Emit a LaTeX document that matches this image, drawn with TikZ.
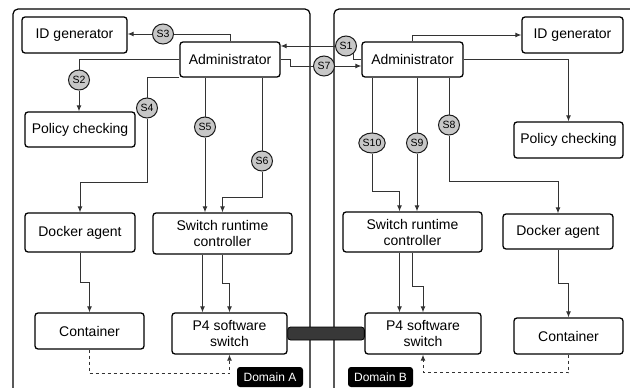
\documentclass[tikz,border=0pt]{standalone}
\usepackage{fontspec}
\setmainfont{Liberation Sans}
\usetikzlibrary{arrows.meta, shapes.geometric}

\begin{document}
\begin{tikzpicture}[x=1pt, y=-1pt,
	every node/.style={font=\fontsize{14}{16}\selectfont},
	box/.style={draw=black, line width=1.3pt, rounded corners=3pt, fill=white, inner sep=0pt, align=center},
	tag/.style={ellipse, draw=black!90, line width=1pt, fill=black!22, inner sep=0pt, minimum width=21pt, minimum height=20pt, font=\fontsize{10.5}{12}\selectfont},
	conn/.style={draw=black!80, line width=1pt},
	arr/.style={conn, -{Latex[length=6pt,width=5pt]}},
	dsh/.style={arr, dashed},
	domainbox/.style={draw=black, line width=1.2pt, rounded corners=5pt},
	dlabel/.style={fill=black, text=white, rounded corners=3pt, minimum width=66pt, minimum height=20pt, inner sep=0pt, font=\fontsize{12}{14}\selectfont}]
		
		\useasboundingbox (0,0) rectangle (630,388);
		
		% Domains
		\draw[domainbox] (13,9) rectangle (310,400);
		\draw[domainbox] (334,9) rectangle (645,400);
		
		% --- Domain A ---
		\node[box, minimum width=105pt, minimum height=36pt] (idA) at (74.5,35) {ID generator};
		\node[box, minimum width=100pt, minimum height=35pt] (adminA) at (230,59.5) {Administrator};
		\node[box, minimum width=110pt, minimum height=35pt] (polA) at (80,129.5) {Policy checking};
		\node[box, minimum width=110pt, minimum height=39pt] (dockA) at (80,232.5) {Docker agent};
		\node[box, minimum width=139pt, minimum height=41pt] (ctrlA) at (222.5,233.5) {Switch runtime\\controller};
		\node[box, minimum width=109pt, minimum height=36pt] (contA) at (89.5,331) {Container};
		\node[box, minimum width=115pt, minimum height=41pt] (p4A) at (229.5,333.5) {P4 software\\switch};
		\node[dlabel] (domA) at (270,377) {Domain A};
		
		% --- Domain B ---
		\node[box, minimum width=101pt, minimum height=35pt] (adminB) at (412.5,59.5) {Administrator};
		\node[box, minimum width=101pt, minimum height=36pt] (idB) at (572.5,35) {ID generator};
		\node[box, minimum width=109pt, minimum height=36pt] (polB) at (568.5,140) {Policy checking};
		\node[box, minimum width=139pt, minimum height=40pt] (ctrlB) at (412.5,232) {Switch runtime\\controller};
		\node[box, minimum width=110pt, minimum height=35pt] (dockB) at (558,231.5) {Docker agent};
		\node[box, minimum width=116pt, minimum height=41pt] (p4B) at (423,333.5) {P4 software\\switch};
		\node[box, minimum width=109pt, minimum height=36pt] (contB) at (568.5,336) {Container};
		\node[dlabel, minimum width=65pt] (domB) at (380.5,377) {Domain B};
		
		% Steps
		\node[tag] (sOne) at (346,46) {S1};
		\node[tag] (sTwo) at (79,80) {S2};
		\node[tag] (sThree) at (163,34) {S3};
		\node[tag] (sFour) at (147,108) {S4};
		\node[tag] (sFive) at (205,127) {S5};
		\node[tag] (sSix) at (262,161) {S6};
		\node[tag] (sSeven) at (324,66) {S7};
		\node[tag] (sEight) at (449,125) {S8};
		\node[tag] (sNine) at (417,143) {S9};
		\node[tag] (sTen) at (372,143) {S10};
		
		% Between the administrators
		\draw[conn] (adminB.west) -| (sOne.south east);
		\draw[arr] (sOne) -- (adminA.east |- sOne);
		\draw[conn] (adminA.east) -- ++(10,0) |- (sSeven);
		\draw[arr] (sSeven) -- (adminB.west |- sSeven);
		
		% Administrator A
		\draw[conn] (adminA.north) |- (sThree);
		\draw[arr] (sThree) -- (idA.east |- sThree);
		\draw[conn] (adminA.west) -| (sTwo);
		\draw[arr] (sTwo) -- (sTwo |- polA.north);
		\draw[conn] (adminA.south west) -| (sFour);
		\draw[arr] (sFour) |- ([yshift=30pt]dockA.north) -- (dockA.north);
		\draw[conn] (adminA.south -| sFive) -- (sFive);
		\draw[arr] (sFive) -- (sFive |- ctrlA.north);
		\draw[conn] (adminA.south -| sSix) -- (sSix);
		\draw[arr] (sSix) |- ([yshift=15pt]ctrlA.north) -- (ctrlA.north);
		
		% Lower part A
		\draw[arr] (dockA.south) |- ([yshift=30pt]contA.north) -- (contA.north);
		\coordinate (cA) at ([xshift=-20pt]ctrlA.south);
		\draw[arr] (cA) -- (cA |- p4A.north);
		\draw[arr] (ctrlA.south) |- ([yshift=29pt]p4A.north) -- (p4A.north);
		\draw[dsh] (contA.south) |- ([yshift=-19pt]p4A.south) -- (p4A.south);
		
		% Administrator B
		\draw[arr] (adminB.north) |- (idB.west);
		\draw[arr] (adminB.east) -| (polB.north);
		\draw[conn] (adminB.south -| sEight) -- (sEight);
		\draw[arr] (sEight) |- ([yshift=32pt]dockB.north) -- (dockB.north);
		\draw[conn] (adminB.south -| sNine) -- (sNine);
		\draw[arr] (sNine) -- (sNine |- ctrlB.north);
		\draw[conn] (adminB.south -| sTen) -- (sTen);
		\coordinate (cB10) at ([xshift=-13pt]ctrlB.north);
		\draw[arr] (sTen) |- ([yshift=20pt]cB10) -- (cB10);
		
		% Lower part B
		\coordinate (cB) at ([xshift=-13pt]ctrlB.south);
		\draw[arr] (cB) -- (cB |- p4B.north);
		\draw[arr] (ctrlB.south) |- ([yshift=26pt]p4B.north) -- (p4B.north);
		\draw[arr] (dockB.south) |- ([yshift=34pt]contB.north) -- (contB.north);
		\draw[dsh] (contB.south) |- ([yshift=-18pt]p4B.south) -- (p4B.south);
		
		% Link between the switches
		\filldraw[draw=black, fill=black!78, line width=0.8pt, rounded corners=3pt] ([yshift=6.5pt]p4A.east) rectangle ([yshift=-6.5pt]p4B.west);
		
		\end{tikzpicture}
\end{document}
